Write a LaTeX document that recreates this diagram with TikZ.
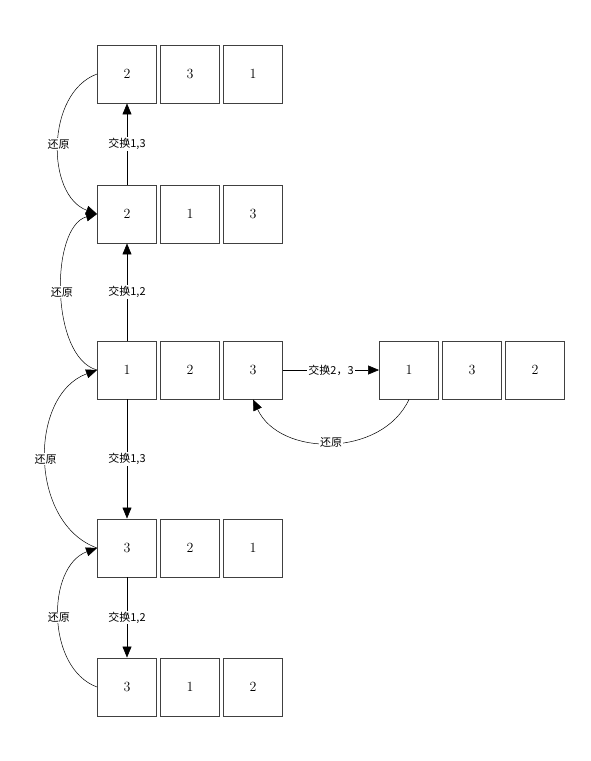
\documentclass[tikz,border=0pt]{standalone}
\usepackage{fontspec}
\newfontfamily\cjk{Noto Sans CJK SC}
\usepackage{tikz}
\usetikzlibrary{arrows.meta,positioning}

\begin{document}
\begin{tikzpicture}[x=1pt,y=1pt,node distance=63pt]
      \tikzstyle{cell} = [draw=black!75, line width=0.9pt, minimum width=59pt, minimum height=58pt, inner sep=0pt, font=\fontsize{14}{16}\selectfont]
      \tikzstyle{lab} = [fill=white, inner sep=1pt, font=\cjk\fontsize{11}{13}\selectfont]
      \tikzstyle{swap} = [-{Triangle[length=11pt,width=9pt]}, line width=0.6pt]
      \tikzstyle{undo} = [-{Triangle[length=11pt,width=9pt]}, line width=0.5pt]
      \useasboundingbox (0,0) rectangle (591,-761);
      \begin{scope}
	\path
	node[cell] (b11) at (127,-74) {2}
	node[cell, right of=b11] (b12) {3}
	node[cell, right of=b12] (b13) {1}
	node[cell] (b21) at (127,-214) {2}
	node[cell, right of=b21] (b22) {1}
	node[cell, right of=b22] (b23) {3}
	node[cell] (b31) at (127,-370) {1}
	node[cell, right of=b31] (b32) {2}
	node[cell, right of=b32] (b33) {3}
	node[cell] (c1) at (409,-370) {1}
	node[cell, right of=c1] (c2) {3}
	node[cell, right of=c2] (c3) {2}
	node[cell] (b41) at (127,-548) {3}
	node[cell, right of=b41] (b42) {2}
	node[cell, right of=b42] (b43) {1}
	node[cell] (b51) at (127,-687) {3}
	node[cell, right of=b51] (b52) {1}
	node[cell, right of=b52] (b53) {2}
	(b21) edge[swap] node[lab, midway] {交换1,3} (b11)
	(b31) edge[swap] node[lab, midway] {交换1,2} (b21)
	(b31) edge[swap] node[lab, midway] {交换1,3} (b41)
	(b41) edge[swap] node[lab, midway] {交换1,2} (b51)
	(b33) edge[swap] node[lab, midway] {交换2，3} (c1)
	(b11.west) edge[undo, out=200, in=160] node[lab, midway] {还原} (b21.west)
	(b31.west) edge[undo, out=165, in=195, looseness=0.8] node[lab, midway] {还原} (b21.west)
	(b41.west) edge[undo, out=160, in=200, looseness=1.05] node[lab, midway] {还原} (b31.west)
	(b51.west) edge[undo, out=160, in=200] node[lab, midway] {还原} (b41.west)
	(c1.south) edge[undo, out=-115, in=-65, looseness=1.05] node[lab, midway] {还原} (b33.south)
	;
      \end{scope}
    \end{tikzpicture}
\end{document}
